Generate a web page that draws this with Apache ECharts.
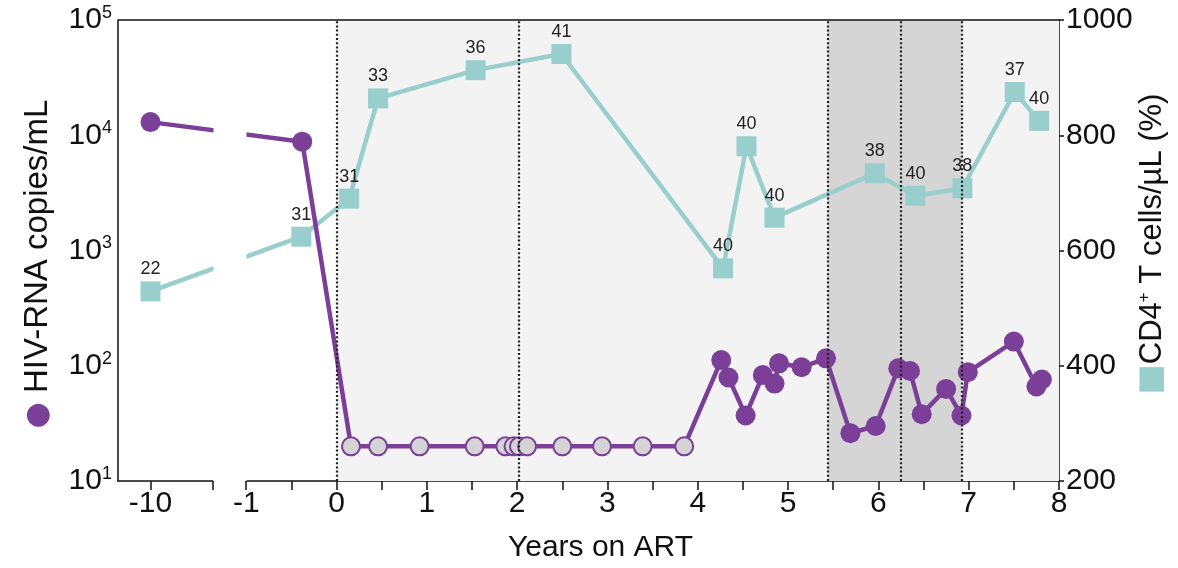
<!DOCTYPE html>
<html>
<head>
<meta charset="utf-8">
<script src="https://cdn.jsdelivr.net/npm/echarts@6/dist/echarts.min.js"></script>
<style>
  html, body { margin: 0; padding: 0; background: #fff; }
  #chart { width: 1178px; height: 568px; }
</style>
</head>
<body>
<div id="chart"></div>
<script>
// HIV-RNA copies/mL over time (years on ART); points below the limit drawn hollow-grey
const rnaYears  = [-10, -0.38, 0.16, 0.46, 0.92, 1.53, 1.87, 1.96, 2.02, 2.11, 2.50, 2.94, 3.39, 3.85,
                   4.26, 4.34, 4.53, 4.72, 4.85, 4.90, 5.15, 5.42, 5.69, 5.97, 6.22, 6.35, 6.48, 6.75, 6.92, 6.99, 7.50, 7.75, 7.81];
const rnaCopies = [13000, 8800, 20, 20, 20, 20, 20, 20, 20, 20, 20, 20, 20, 20,
                   112, 79, 37, 83, 70, 105, 97, 116, 26, 30, 95, 90, 38, 63, 37, 88, 162, 66, 76];
const rnaBelowLimit = [0, 0, 1, 1, 1, 1, 1, 1, 1, 1, 1, 1, 1, 1,
                   0, 0, 0, 0, 0, 0, 0, 0, 0, 0, 0, 0, 0, 0, 0, 0, 0, 0, 0];

// CD4+ T cells/uL and CD4 %
const cd4Years   = [-10, -0.39, 0.14, 0.46, 1.54, 2.49, 4.28, 4.54, 4.85, 5.96, 6.41, 6.93, 7.51, 7.78];
const cd4Counts  = [529, 624, 690, 864, 913, 941, 569, 781, 657, 734, 695, 708, 875, 825];
const cd4Percent = [22, 31, 31, 33, 36, 41, 40, 40, 40, 38, 40, 38, 37, 40];

// periods and events
const onArt = [0, 8];
const darkPeriod = [5.44, 6.92];
const eventYears = [0, 2.02, 5.44, 6.25, 6.92];

// axis ticks
const xTickLabels = [-10, -1, 0, 1, 2, 3, 4, 5, 6, 7, 8];
const xTicks = [-10, -9.31, -1, -0.5, 0, 0.5, 1, 1.5, 2, 2.5, 3, 3.5, 4, 4.5, 5, 5.5, 6, 6.5, 7, 7.5, 8];

const purple = '#7b3f98';
const teal = '#98cecb';
const font = 'Liberation Sans, Arial, sans-serif';

// plot box
const W = 1178, gLeft = 118, gRight = 119, gTop = 20, gBottom = 87;

let myChart = echarts.init(document.getElementById('chart'));

let rnaData = [];
for (let i = 0; i < rnaYears.length; i++) {
  let item = { value: [rnaYears[i], rnaCopies[i]] };
  if (rnaBelowLimit[i]) {
    item.symbolSize = 18;
    item.itemStyle = { color: '#d4d4d4', borderColor: purple, borderWidth: 2 };
  }
  rnaData.push(item);
}
let cd4Data = cd4Years.map((x, i) => [x, cd4Counts[i]]);

let option = {
  animation: false,
  textStyle: { fontFamily: font },
  grid: { left: gLeft, right: gRight, top: gTop, bottom: gBottom, containLabel: false },
  xAxis: {
    type: 'value',
    min: -10.36,
    max: 8,
    breaks: [{ start: -9.31, end: -1, gap: '3.55%' }],
    breakArea: {
      show: true,
      itemStyle: { color: '#fff', borderColor: '#fff', borderWidth: 0, opacity: 1 },
      zigzagAmplitude: 0,
      expandOnClick: false
    },
    axisLine: { show: true, onZero: false, lineStyle: { color: '#111', width: 1.5 } },
    axisTick: { show: true, customValues: xTicks, length: 9, lineStyle: { color: '#111', width: 1.5 } },
    axisLabel: { customValues: xTickLabels, fontSize: 30, color: '#111', margin: 8 },
    splitLine: { show: false },
    name: 'Years on ART',
    nameLocation: 'middle',
    nameGap: 52,
    nameTextStyle: { fontSize: 30, color: '#111', padding: [0, 0, 0, 24] }
  },
  yAxis: [
    {
      type: 'log',
      logBase: 10,
      min: 10,
      max: 100000,
      position: 'left',
      axisLine: { show: true, onZero: false, lineStyle: { color: '#111', width: 1.5 } },
      axisTick: { show: false },
      splitLine: { show: false },
      minorTick: { show: false },
      axisLabel: {
        margin: 6,
        formatter: function (v) {
          return '{b|10}{s|' + Math.round(Math.log10(v)) + '}';
        },
        rich: {
          b: { fontSize: 30, color: '#111', fontFamily: font },
          s: { fontSize: 18, color: '#111', fontFamily: font, padding: [0, 0, 14, 0] }
        }
      }
    },
    {
      type: 'value',
      min: 200,
      max: 1000,
      interval: 200,
      position: 'right',
      axisLine: { show: true, onZero: false, lineStyle: { color: '#111', width: 1.5 } },
      axisTick: { show: true, length: 5, lineStyle: { color: '#111', width: 1.5 } },
      splitLine: { show: false },
      axisLabel: { fontSize: 30, color: '#111', margin: 7, formatter: v => String(v) }
    }
  ],
  graphic: [
    {
      // top frame line, on its own layer so the break cover can't hide it
      type: 'line',
      zlevel: 5,
      z: 1000,
      silent: true,
      shape: { x1: gLeft, y1: gTop, x2: W - gRight, y2: gTop },
      style: { stroke: '#111', lineWidth: 1.5 }
    },
    {
      type: 'text',
      x: 38,
      y: 264,
      rotation: Math.PI / 2,
      style: {
        text: '{d|●} HIV-RNA copies/mL',
        align: 'center',
        verticalAlign: 'middle',
        rich: {
          d: { fontSize: 30, fill: purple, fontFamily: 'DejaVu Sans' }
        },
        fontSize: 33,
        fontFamily: font,
        fill: '#111'
      }
    },
    {
      type: 'text',
      x: 1152,
      y: 244,
      rotation: Math.PI / 2,
      style: {
        text: '{q|■}CD4{p|+} T cells/µL (%)',
        align: 'center',
        verticalAlign: 'middle',
        rich: {
          q: { fontSize: 32, fill: teal, fontFamily: 'DejaVu Sans' },
          p: { fontSize: 17, fill: '#111', padding: [0, 0, 15, 0] }
        },
        fontSize: 31,
        fontFamily: font,
        fill: '#111'
      }
    }
  ],
  series: [
    {
      // shading and event lines
      type: 'line',
      yAxisIndex: 1,
      data: [],
      z: 1,
      silent: true,
      markArea: {
        silent: true,
        data: [
          [{ xAxis: onArt[0], itemStyle: { color: '#f3f3f3' } }, { xAxis: onArt[1] }],
          [{ xAxis: darkPeriod[0], itemStyle: { color: '#d5d5d5' } }, { xAxis: darkPeriod[1] }]
        ]
      },
      markLine: {
        silent: true,
        symbol: ['none', 'none'],
        label: { show: false },
        lineStyle: { color: '#222', type: [2, 2.2], width: 2.2 },
        data: eventYears.map(v => ({ xAxis: v }))
      }
    },
    {
      name: 'CD4',
      type: 'line',
      yAxisIndex: 1,
      z: 3,
      data: cd4Data,
      symbol: 'rect',
      symbolSize: 20,
      lineStyle: { color: teal, width: 4.5 },
      itemStyle: { color: teal },
      label: {
        show: true,
        position: 'top',
        distance: 3,
        fontSize: 18,
        color: '#222',
        formatter: p => cd4Percent[p.dataIndex]
      }
    },
    {
      name: 'HIV-RNA',
      type: 'line',
      yAxisIndex: 0,
      z: 4,
      data: rnaData,
      symbol: 'circle',
      symbolSize: 20,
      lineStyle: { color: purple, width: 4.5 },
      itemStyle: { color: purple }
    }
  ]
};

myChart.setOption(option);
</script>
</body>
</html>
